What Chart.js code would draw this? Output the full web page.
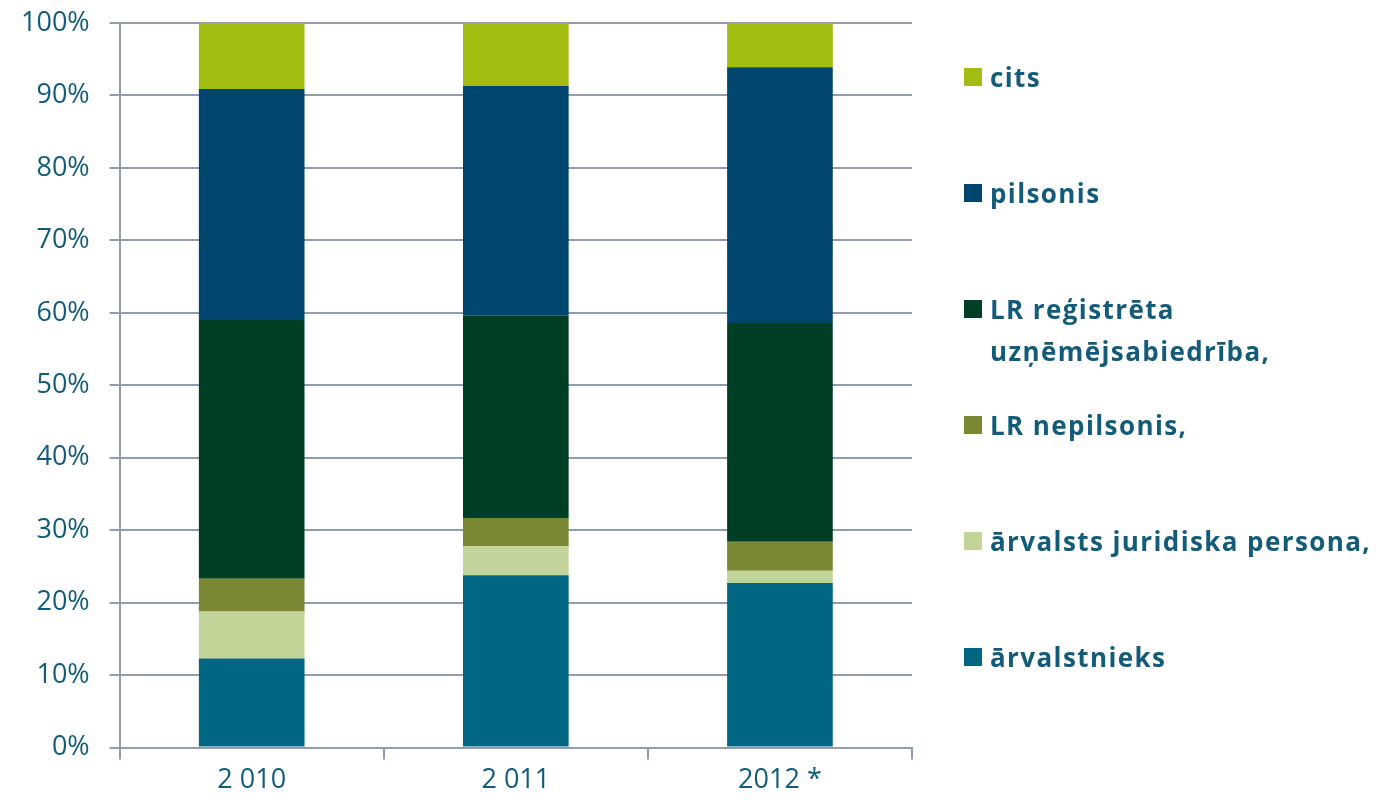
<!DOCTYPE html>
<html>
<head>
<meta charset="utf-8">
<script src="https://cdn.jsdelivr.net/npm/chart.js@4.4.0/dist/chart.umd.min.js"></script>
<style>
  html, body { margin: 0; padding: 0; background: #fff; }
  #wrap { position: relative; width: 1389px; height: 802px; }
  #legend { position: absolute; left: 964px; top: 0; width: 425px; height: 802px;
            font-family: "Open Sans", Lato, sans-serif; font-weight: bold; font-size: 26px;
            letter-spacing: 1.4px; color: #135C79; }
  .item { position: absolute; left: 0; display: flex; align-items: flex-start; line-height: 42px; white-space: nowrap; }
  .box { width: 18px; height: 18px; margin-top: 12px; margin-right: 8px; flex: none; }
</style>
</head>
<body>
<div id="wrap">
  <canvas id="chart" width="1389" height="802"></canvas>
  <div id="legend"></div>
</div>
<script>
const categories = ["2 010", "2 011", "2012 *"];
const seriesNames = ["ārvalstnieks", "ārvalsts juridiska persona,", "LR nepilsonis,",
  "LR reģistrēta uzņēmējsabiedrība,", "pilsonis", "cits"];
const arvalstnieks = [12.3, 23.8, 22.7];
const arvalstsJurPers = [6.5, 4.0, 1.7];
const lrNepilsonis = [4.5, 3.9, 4.0];
const lrRegistreta = [35.7, 27.9, 30.2];
const pilsonis = [31.9, 31.7, 35.3];
const cits = [9.1, 8.7, 6.1];
const yTicks = [0, 10, 20, 30, 40, 50, 60, 70, 80, 90, 100];

const colors = ["#006682", "#C2D497", "#7A8833", "#003F23", "#00466F", "#A3BC12"];
const values = [arvalstnieks, arvalstsJurPers, lrNepilsonis, lrRegistreta, pilsonis, cits];

const textColor = "#135C79";
const gridColor = "#8F9DAE";
const fontFamily = "'Open Sans', Lato, sans-serif";

const datasets = values.map((v, i) => ({
  label: seriesNames[i],
  data: v,
  backgroundColor: colors[i],
  borderWidth: 0,
  categoryPercentage: 1,
  barPercentage: 0.4
}));

new Chart(document.getElementById("chart"), {
  type: "bar",
  data: { labels: categories, datasets: datasets },
  options: {
    responsive: false,
    animation: false,
    layout: { padding: { top: 23, right: 477, left: 1, bottom: 0 } },
    plugins: { legend: { display: false }, tooltip: { enabled: false } },
    scales: {
      x: {
        stacked: true,
        grid: { offset: true, drawOnChartArea: false, drawTicks: true, tickLength: 12, color: gridColor, lineWidth: 2 },
        border: { color: gridColor, width: 2 },
        ticks: { color: textColor, font: { family: fontFamily, size: 27 }, padding: 5 }
      },
      y: {
        stacked: true,
        min: 0, max: 100,
        afterBuildTicks: (axis) => { axis.ticks = yTicks.map(v => ({ value: v })); },
        afterFit: (axis) => { axis.paddingTop = 0; axis.paddingBottom = 0; },
        grid: { color: gridColor, lineWidth: 2, tickLength: 10 },
        border: { color: gridColor, width: 2 },
        ticks: { color: textColor, font: { family: fontFamily, size: 27 }, padding: 20,
                 callback: (v) => v + "%" }
      }
    }
  }
});

// legenda (kā oriģinālā: augšā "cits", apakšā "ārvalstnieks")
const legendTops = [56, 172, 288, 404, 520, 636];
const legend = document.getElementById("legend");
for (let i = seriesNames.length - 1, k = 0; i >= 0; i--, k++) {
  const it = document.createElement("div");
  it.className = "item";
  it.style.top = legendTops[k] + "px";
  let label = seriesNames[i];
  if (label.startsWith("LR reģistrēta")) label = "LR reģistrēta<br>uzņēmējsabiedrība,";
  it.innerHTML = '<span class="box" style="background:' + colors[i] + '"></span><span>' + label + '</span>';
  legend.appendChild(it);
}
</script>
</body>
</html>
